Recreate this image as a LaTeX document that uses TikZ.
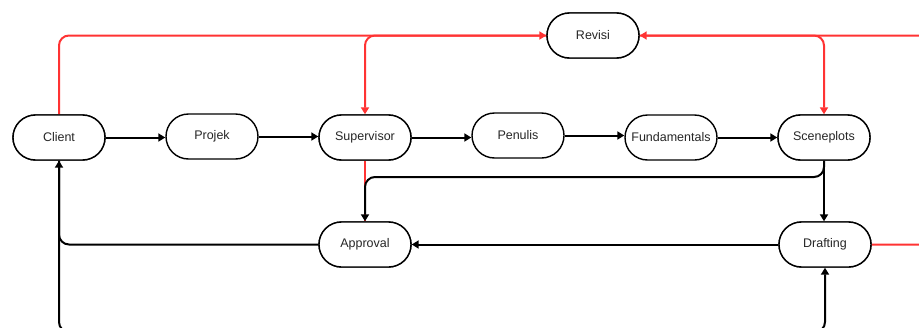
\documentclass[tikz,border=0pt]{standalone}
\usepackage{fontspec}
\setmainfont{Liberation Sans}
\usetikzlibrary{arrows.meta}
\definecolor{revred}{HTML}{FF3333}
\tikzset{
  pill/.style={draw=black, line width=1.4pt, fill=white, rounded corners=22.5pt,
    minimum width=92pt, minimum height=45pt, inner sep=0pt, font=\fontsize{12.5pt}{14pt}\selectfont, text=black!85},
  blk/.style={draw=black, line width=2pt, rounded corners=10pt, -{Triangle[length=7pt,width=8pt]}},
  red/.style={draw=revred, line width=2pt, rounded corners=10pt, -{Triangle[length=7pt,width=8pt]}},
}
\begin{document}
\begin{tikzpicture}[x=1pt,y=-1pt]
\useasboundingbox (0,0) rectangle (919,327);
\clip (0,0) rectangle (919,327);
% nodes
\node[pill] (client) at (59,137.5) {Client};
\node[pill] (projek) at (212,136.5) {Projek};
\node[pill] (super) at (365,137.5) {Supervisor};
\node[pill] (penulis) at (518,135.5) {Penulis};
\node[pill] (fund) at (671,137.5) {Fundamentals};
\node[pill] (scene) at (824,137.5) {Sceneplots};
\node[pill] (revisi) at (593,35.5) {Revisi};
\node[pill] (approval) at (365,244.5) {Approval};
\node[pill] (drafting) at (825,244.5) {Drafting};
\coordinate (rightout) at (935,244.5);
\coordinate (bottom) at (440,332);
\coordinate (turn) at (600,177);
% red connectors
\begin{scope}[on background layer/.style={}]
\draw[red] (client.north) |- (revisi.west);
\draw[red] (revisi.west) -| (super.north);
\draw[red] (drafting.east) -- (rightout) |- (revisi.east);
\draw[red] (revisi.east) -| (scene.north);
\draw[red, -] (super.south) -- (approval.north);
\end{scope}
% black connectors
\draw[blk] (client) -- (projek.west |- client);
\draw[blk] (projek.east) -- (super.west |- projek.east);
\draw[blk] (super) -- (penulis.west |- super);
\draw[blk] (penulis.east) -- (fund.west |- penulis.east);
\draw[blk] (fund) -- (scene);
\draw[blk] (scene.south) |- (turn) -| (approval.north);
\draw[blk] (scene.south) -- (drafting.north -| scene.south);
\draw[blk] (drafting) -- (approval);
\draw[blk] (approval.west) -| (client.south);
\draw[blk] (client.south) |- (bottom) -| (drafting.south);
% redraw nodes on top
\node[pill] at (client) {Client};
\node[pill] at (super) {Supervisor};
\node[pill] at (scene) {Sceneplots};
\node[pill] at (approval) {Approval};
\node[pill] at (drafting) {Drafting};
\node[pill] at (revisi) {Revisi};
\end{tikzpicture}
\end{document}
